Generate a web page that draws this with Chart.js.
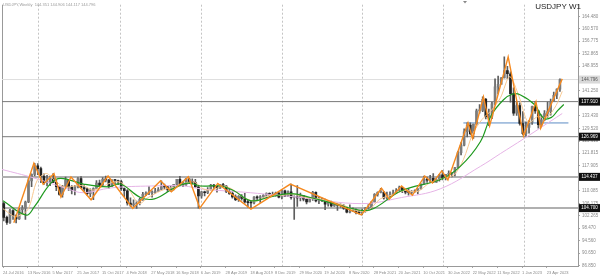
<!DOCTYPE html>
<html>
<head>
<meta charset="utf-8">
<script src="https://cdn.jsdelivr.net/npm/chart.js@4.4.0/dist/chart.umd.min.js"></script>
<style>
  body { margin: 0; background: #fff; }
  canvas { display: block; }
</style>
</head>
<body>
<canvas id="chart" width="600" height="276"></canvas>
<script>
// USDJPY weekly, one candle per two weeks, week 0 = 24 Jul 2016
var firstOpen = 106.1;
var closes = [101.8,100.2,103.9,102.3,101.3,104.2,104.7,106.6,113.2,115.2,
  117.9,117.0,114.6,112.6,112.9,114.0,112.7,111.4,109.0,111.5,
  113.4,111.3,110.3,111.3,113.9,111.1,110.7,109.2,110.2,110.8,
  112.5,111.8,113.7,113.5,111.5,113.5,113.3,113.0,110.8,110.1,
  106.3,105.7,106.0,106.3,107.4,109.0,109.4,109.4,109.5,110.0,
  110.5,111.4,111.3,110.5,111.0,112.1,113.7,112.2,111.9,113.8,
  112.9,112.7,111.3,108.5,109.8,109.5,110.5,111.9,111.5,110.9,
  112.0,111.6,109.9,109.3,108.2,107.3,108.4,107.7,106.6,106.4,
  106.3,108.1,107.9,108.3,108.7,109.3,108.7,108.6,109.4,108.1,
  110.1,108.4,109.8,108.0,108.0,107.9,108.5,107.5,106.6,107.6,
  109.6,106.9,107.5,107.0,105.9,106.6,105.4,106.1,105.6,105.6,
  104.7,103.4,103.8,104.2,103.3,103.2,103.9,104.7,104.9,106.6,
  109.0,109.6,109.7,107.9,108.6,108.9,109.5,110.2,111.1,110.1,
  109.7,109.6,109.8,109.9,110.7,112.2,113.5,113.4,114.0,112.8,
  113.7,115.1,114.2,115.2,115.4,115.6,117.3,122.0,124.3,128.5,
  130.6,127.9,130.9,135.0,135.2,138.6,133.2,133.4,137.2,142.5,
  143.3,145.3,147.6,146.6,140.4,134.3,136.7,131.1,127.9,129.9,
  131.4,136.4,135.0,130.7,132.2,134.2,134.8,137.9,139.9,141.8,
  144.8];
var highs = [106.5,102.2,104.3,104.2,102.6,104.6,105.5,106.9,113.9,115.4,
  118.7,118.6,117.5,115.4,114.9,114.7,115.5,113.4,111.6,111.8,
  114.4,113.5,111.7,111.8,114.2,114.5,111.7,111.0,110.7,111.0,
  113.3,113.4,114.2,114.7,113.6,113.5,113.7,113.4,113.4,111.0,
  110.5,107.9,107.3,106.9,107.8,109.6,109.8,111.4,110.1,110.9,
  111.1,113.2,112.2,111.5,111.8,112.1,113.7,114.6,112.9,114.0,
  114.0,113.8,113.7,111.4,109.9,110.0,111.1,112.1,112.1,111.7,
  112.0,112.4,111.7,110.7,109.9,108.8,108.6,108.9,109.3,107.1,
  106.8,108.3,108.5,108.6,108.9,109.5,109.5,109.7,109.7,109.7,
  110.3,110.3,110.1,112.2,108.5,111.7,109.4,108.6,107.5,107.8,
  109.9,109.8,108.2,107.8,107.5,107.0,106.9,106.5,106.2,106.0,
  105.8,105.0,105.7,104.8,104.5,104.0,104.4,104.9,105.8,106.7,
  109.2,109.8,110.9,109.8,109.7,109.8,110.3,110.8,111.6,111.1,
  110.6,110.8,110.2,110.4,110.8,112.3,114.7,114.4,114.9,115.5,
  113.9,115.2,116.4,115.2,116.3,115.8,117.4,122.4,125.1,129.4,
  131.3,131.3,130.9,135.6,137.0,139.4,138.9,135.6,137.7,145.0,
  145.9,145.4,151.9,148.9,147.2,142.2,137.9,137.5,134.8,131.6,
  132.0,136.5,137.9,135.1,133.8,135.1,137.8,138.7,140.9,141.9,
  145.0];
var lows = [100.7,99.6,99.9,101.2,100.1,101.2,103.2,101.2,106.4,111.4,
  114.7,115.1,112.6,112.1,111.6,111.7,112.6,110.1,108.7,108.1,
  111.2,110.2,109.1,108.8,111.0,111.0,109.9,108.7,108.3,107.3,
  110.8,111.7,111.7,112.9,110.8,111.4,112.0,112.0,110.2,108.3,
  105.6,105.2,105.2,104.6,105.7,107.1,108.6,108.9,108.1,109.2,
  109.9,110.3,110.6,109.8,110.0,110.4,111.7,111.6,111.4,111.8,
  112.3,112.2,111.2,104.7,107.8,108.5,109.2,110.3,110.8,109.7,
  110.8,111.4,109.5,109.0,107.8,107.0,106.8,107.2,106.2,105.0,
  104.5,106.0,107.0,106.5,108.0,107.9,108.2,108.4,108.4,107.9,
  107.6,108.3,108.3,107.5,101.2,105.2,106.9,106.9,106.0,106.6,
  107.1,106.6,106.1,106.7,104.2,105.3,105.1,105.2,104.0,104.9,
  104.3,103.2,103.2,103.7,102.9,102.9,102.6,103.4,104.4,104.6,
  106.5,108.4,109.4,107.5,107.5,108.3,108.6,109.2,110.2,109.5,
  109.1,108.7,109.1,109.6,109.1,110.6,112.2,112.7,112.7,112.6,
  112.7,113.1,113.5,113.5,114.2,114.4,114.7,117.3,121.3,124.1,
  126.9,127.5,126.4,130.8,134.3,134.8,132.5,130.4,132.6,136.9,
  140.3,143.5,145.3,145.1,137.7,133.6,133.6,130.6,127.5,127.2,
  128.1,130.8,134.2,129.6,130.4,132.0,133.0,133.7,137.9,138.8,
  141.1];

// zigzag pivots
var zzWeeks = [7, 20, 26, 33, 37.5, 44, 57, 68, 84, 102, 109, 120, 127.4, 139, 160.5, 186, 232, 245, 250, 258, 265, 273, 278, 284, 288, 301, 304, 311, 315, 327, 337, 345, 348, 362];
var zzPrices = [100.1, 118.7, 112.1, 115.5, 108.1, 114.4, 107.3, 114.7, 104.6, 113.2, 109.8, 114.5, 104.7, 112.4, 104.4, 112.2, 102.6, 110.9, 107.5, 111.6, 108.7, 114.7, 112.5, 116.3, 113.5, 131.3, 126.4, 139.4, 130.4, 151.9, 127.2, 137.9, 129.6, 145.0];

// moving averages
var fastWeeks = [0,8,16,22,28,34,40,46,52,58,64,70,76,82,88,94,100,106,112,118,124,130,136,142,148,156,164,172,180,188,196,204,212,220,228,236,244,252,260,268,276,284,292,298,304,310,316,322,328,334,340,346,352,358,362];
var fastPrices = [104.5,102.1,104.2,113.2,115.5,113.1,111.2,111.6,111.7,110.3,111.3,112.6,112.8,110.1,106.1,108.0,109.6,110.8,111.2,112.5,112.8,110.6,110.4,111.6,110.7,107.9,106.9,108.6,108.7,109.1,108.0,107.7,106.8,105.7,104.0,103.8,107.5,108.8,110.2,109.8,112.5,113.9,115.1,119.8,127.8,132.3,135.1,139.1,145.7,139.5,131.4,133.2,133.0,136.7,141.1];
var greenWeeks = [0, 15, 20, 31, 37.5, 52, 68, 76, 89, 98, 111, 120, 128, 141, 149.5, 160.5, 171.5, 186, 199, 214, 232, 240, 258, 283.5, 296, 309, 316, 324, 330, 335, 344, 350, 355, 359, 363];
var greenPrices = [107.0, 102.5, 104.9, 112.5, 114.0, 112.2, 111.3, 112.2, 108.0, 107.6, 111.0, 112.5, 111.6, 111.6, 110.1, 107.0, 108.0, 109.2, 108.0, 106.1, 104.0, 104.6, 110.1, 113.7, 117.7, 125.4, 133.6, 138.5, 140.3, 140.0, 137.0, 132.7, 133.0, 135.1, 137.0];
var pinkWeeks = [-1, 20, 42, 52, 70, 96, 117, 128, 160, 193, 232, 258, 283, 309, 322, 337, 362];
var pinkPrices = [116.8, 114.1, 110.7, 109.5, 111.0, 111.6, 111.6, 110.7, 109.5, 108.0, 106.1, 108.0, 110.7, 117.7, 121.7, 126.3, 134.2];

// horizontal levels
var darkLevels = [137.91, 126.969];
var greyLevels = [114.437, 104.70];
var levelLabels = ['137.910', '126.969', '114.437', '104.700'];
var lastPrice = 144.796;
var blueLevel = 131.26, blueFrom = 298, blueTo = 366;

// axes
var yTicks = [164.480, 160.570, 156.775, 152.865, 148.955, 141.250, 133.430, 129.520, 125.610, 121.815, 117.905, 110.085, 106.175, 102.265, 98.470, 94.560, 90.650, 86.850];
var dateLabels = ['24 Jul 2016','13 Nov 2016','5 Mar 2017','25 Jun 2017','15 Oct 2017','4 Feb 2018','27 May 2018','16 Sep 2018','6 Jan 2019','28 Apr 2019','18 Aug 2019','8 Dec 2019','29 Mar 2020','19 Jul 2020','8 Nov 2020','28 Feb 2021','20 Jun 2021','10 Oct 2021','30 Jan 2022','22 May 2022','11 Sep 2022','1 Jan 2023','23 Apr 2023'];
var dateWeeks = [0,16,32,48,64,80,96,112,128,144,160,176,192,208,224,240,256,272,288,304,320,336,352];
var gridWeeks = [22.7, 75.8, 128.2, 180.6, 232.4, 284.8, 337.3];

var xMin = -0.65, xMax = 372.2;
var yMin = 86.64, yMax = 168.14;
var font = 'Liberation Sans, Arial, sans-serif';

function pts(xs, ys) {
  return xs.map(function(x, i) { return {x: x, y: ys[i]}; });
}

function hline(v, color, width, from, to) {
  return {
    type: 'line', data: [{x: from, y: v}, {x: to, y: v}],
    borderColor: color, borderWidth: width, pointRadius: 0, order: 9
  };
}

var wicks = closes.map(function(c, i) { return {x: 2 * i + 0.5, y: [lows[i], highs[i]]}; });
var bodies = closes.map(function(c, i) {
  var o = i === 0 ? firstOpen : closes[i - 1];
  return {x: 2 * i + 0.5, y: [o, c]};
});
var bodyColors = bodies.map(function(b) { return b.y[1] >= b.y[0] ? '#7c7c7c' : '#222'; });

var datasets = [];
darkLevels.forEach(function(v) { datasets.push(hline(v, '#7a7a7a', 1, xMin, xMax)); });
greyLevels.forEach(function(v) { datasets.push(hline(v, '#b0b0b0', 2, xMin, xMax)); });
datasets.push(hline(lastPrice, '#dedede', 1, xMin, xMax));
datasets.push(hline(blueLevel, '#5b8cc4', 1, blueFrom, blueTo));
datasets.push({type: 'bar', data: wicks, backgroundColor: '#5e5e5e', barThickness: 1, grouped: false, order: 6});
datasets.push({type: 'bar', data: bodies, backgroundColor: bodyColors, barThickness: 2, minBarLength: 1, grouped: false, order: 5});
datasets.push({type: 'line', data: pts(pinkWeeks, pinkPrices), borderColor: '#e6b4e6', borderWidth: 1, pointRadius: 0, tension: 0.4, order: 4});
datasets.push({type: 'line', data: pts(fastWeeks, fastPrices), borderColor: '#f8c890', borderWidth: 1, pointRadius: 0, tension: 0.3, order: 3});
datasets.push({type: 'line', data: pts(greenWeeks, greenPrices), borderColor: '#1f9a1f', borderWidth: 1.2, pointRadius: 0, tension: 0.4, order: 2});
datasets.push({type: 'line', data: pts(zzWeeks, zzPrices), borderColor: '#f5891f', borderWidth: 1.4, pointRadius: 0, tension: 0, order: 1});

var overlay = {
  id: 'overlay',
  beforeDatasetsDraw: function(chart) {
    var c = chart.ctx, a = chart.chartArea, xs = chart.scales.x;
    c.save();
    c.strokeStyle = '#c4c4c4';
    c.lineWidth = 1;
    c.setLineDash([2, 2]);
    gridWeeks.forEach(function(w) {
      var px = Math.round(xs.getPixelForValue(w)) + 0.5;
      c.beginPath(); c.moveTo(px, a.top); c.lineTo(px, a.bottom); c.stroke();
    });
    c.setLineDash([]);
    c.strokeStyle = '#999';
    c.beginPath(); c.moveTo(a.left + 0.5, a.top); c.lineTo(a.left + 0.5, a.bottom); c.stroke();
    c.restore();
  },
  afterDraw: function(chart) {
    var c = chart.ctx, ys = chart.scales.y, a = chart.chartArea;
    c.save();
    c.font = '4.5px ' + font;
    c.textAlign = 'center';
    c.textBaseline = 'middle';
    darkLevels.concat(greyLevels).forEach(function(v, i) {
      var py = ys.getPixelForValue(v);
      c.fillStyle = '#111';
      c.fillRect(a.right + 1, py - 4, 21, 8);
      c.fillStyle = '#fff';
      c.fillText(levelLabels[i], a.right + 11.5, py);
    });
    var lp = ys.getPixelForValue(lastPrice);
    c.fillStyle = '#d9d9d9';
    c.fillRect(a.right + 1, lp - 4, 21, 8);
    c.fillStyle = '#555';
    c.fillText(lastPrice.toFixed(3), a.right + 11.5, lp);

    // header texts
    c.textAlign = 'left';
    c.fillStyle = '#9a9a9a';
    c.font = '4px ' + font;
    c.fillText('USDJPY,Weekly  144.351 144.906 144.117 144.796', 3, 4.5);
    c.textAlign = 'right';
    c.fillStyle = '#222';
    c.font = '8px ' + font;
    c.fillText('USDJPY W1', 581, 7);

    // small marker at the top
    c.fillStyle = '#888';
    c.beginPath(); c.moveTo(463, 1); c.lineTo(467, 1); c.lineTo(465, 3.5); c.closePath(); c.fill();
    c.restore();
  }
};

var config = {
  type: 'bar',
  data: {datasets: datasets},
  options: {
    responsive: false,
    devicePixelRatio: 1,
    animation: false,
    layout: {padding: {left: 2, top: 0, right: 0, bottom: 0}, autoPadding: false},
    plugins: {legend: {display: false}, tooltip: {enabled: false}, title: {display: false}},
    scales: {
      x: {
        type: 'linear', min: xMin, max: xMax, offset: false,
        afterBuildTicks: function(s) { s.ticks = dateWeeks.map(function(w) { return {value: w}; }); },
        afterFit: function(s) { s.height = 10; },
        ticks: {
          autoSkip: false, maxRotation: 0, minRotation: 0, align: 'start', padding: 2,
          color: '#8a8a8a', font: {size: 4, family: font},
          callback: function(v, i) { return dateLabels[i]; }
        },
        grid: {drawOnChartArea: false, drawTicks: true, tickLength: 2, color: '#aaa', offset: false},
        border: {display: true, color: '#999'}
      },
      y: {
        position: 'right', min: yMin, max: yMax,
        afterBuildTicks: function(s) { s.ticks = yTicks.map(function(v) { return {value: v}; }); },
        afterFit: function(s) { s.width = 22; },
        ticks: {
          autoSkip: false, padding: 2, color: '#8a8a8a', font: {size: 4.5, family: font},
          callback: function(v) { return v.toFixed(3); }
        },
        grid: {drawOnChartArea: false, drawTicks: true, tickLength: 2, color: '#aaa'},
        border: {display: true, color: '#999'}
      }
    }
  },
  plugins: [overlay]
};

var myChart = new Chart(document.getElementById('chart').getContext('2d'), config);
</script>
</body>
</html>
